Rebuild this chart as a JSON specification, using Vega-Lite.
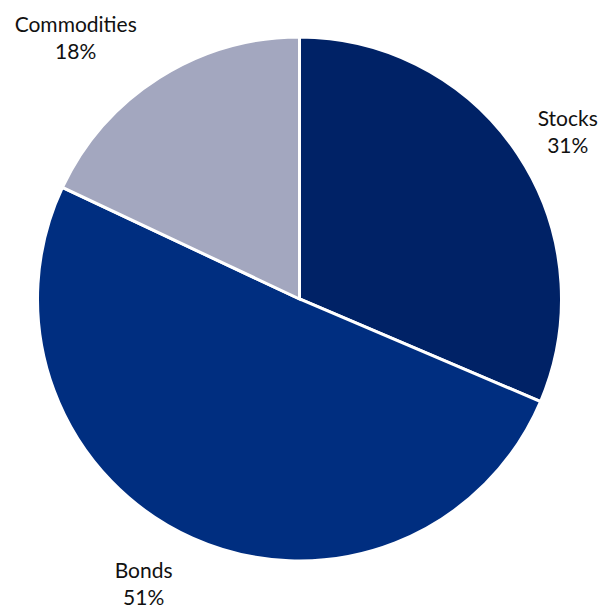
{
  "$schema": "https://vega.github.io/schema/vega-lite/v6.json",
  "autosize": "none",
  "width": 599,
  "height": 598,
  "padding": {"left": 0, "top": 0, "right": 5, "bottom": 7},
  "background": "white",
  "config": {"view": {"stroke": null}, "font": "Lato"},
  "data": {
    "values": [
      {"category": "Stocks", "value": 31.4, "rank": 1},
      {"category": "Bonds", "value": 50.6, "rank": 2},
      {"category": "Commodities", "value": 18.0, "rank": 3}
    ]
  },
  "transform": [
    {"stack": "value", "groupby": [], "sort": [{"field": "rank"}], "as": ["v0", "v1"]},
    {"calculate": "(datum.v0 + datum.v1) / 2", "as": "mid"},
    {"calculate": "datum.category + '\\n' + format(datum.value / 100, '.0%')", "as": "label"}
  ],
  "layer": [
    {
      "mark": {"type": "arc", "outerRadius": 262, "stroke": "white", "strokeWidth": 3},
      "encoding": {
        "theta": {"field": "v0", "type": "quantitative", "scale": {"domain": [0, 100]}},
        "theta2": {"field": "v1"},
        "color": {
          "field": "category",
          "type": "nominal",
          "scale": {"domain": ["Stocks", "Bonds", "Commodities"], "range": ["#002266", "#002e80", "#a3a7bf"]},
          "legend": null
        }
      }
    },
    {
      "transform": [{"filter": "datum.category === 'Stocks'"}],
      "mark": {"type": "text", "radius": 330, "lineBreak": "\n", "fontSize": 21, "lineHeight": 27, "color": "#111111", "dx": -7, "dy": 3},
      "encoding": {
        "theta": {"field": "mid", "type": "quantitative", "scale": {"domain": [0, 100]}},
        "text": {"field": "label"}
      }
    },
    {
      "transform": [{"filter": "datum.category === 'Bonds'"}],
      "mark": {"type": "text", "radius": 330, "lineBreak": "\n", "fontSize": 21, "lineHeight": 27, "color": "#111111", "dx": -21, "dy": -28},
      "encoding": {
        "theta": {"field": "mid", "type": "quantitative", "scale": {"domain": [0, 100]}},
        "text": {"field": "label"}
      }
    },
    {
      "transform": [{"filter": "datum.category === 'Commodities'"}],
      "mark": {"type": "text", "radius": 330, "lineBreak": "\n", "fontSize": 21, "lineHeight": 27, "color": "#111111", "dx": -47, "dy": 6},
      "encoding": {
        "theta": {"field": "mid", "type": "quantitative", "scale": {"domain": [0, 100]}},
        "text": {"field": "label"}
      }
    }
  ]
}
